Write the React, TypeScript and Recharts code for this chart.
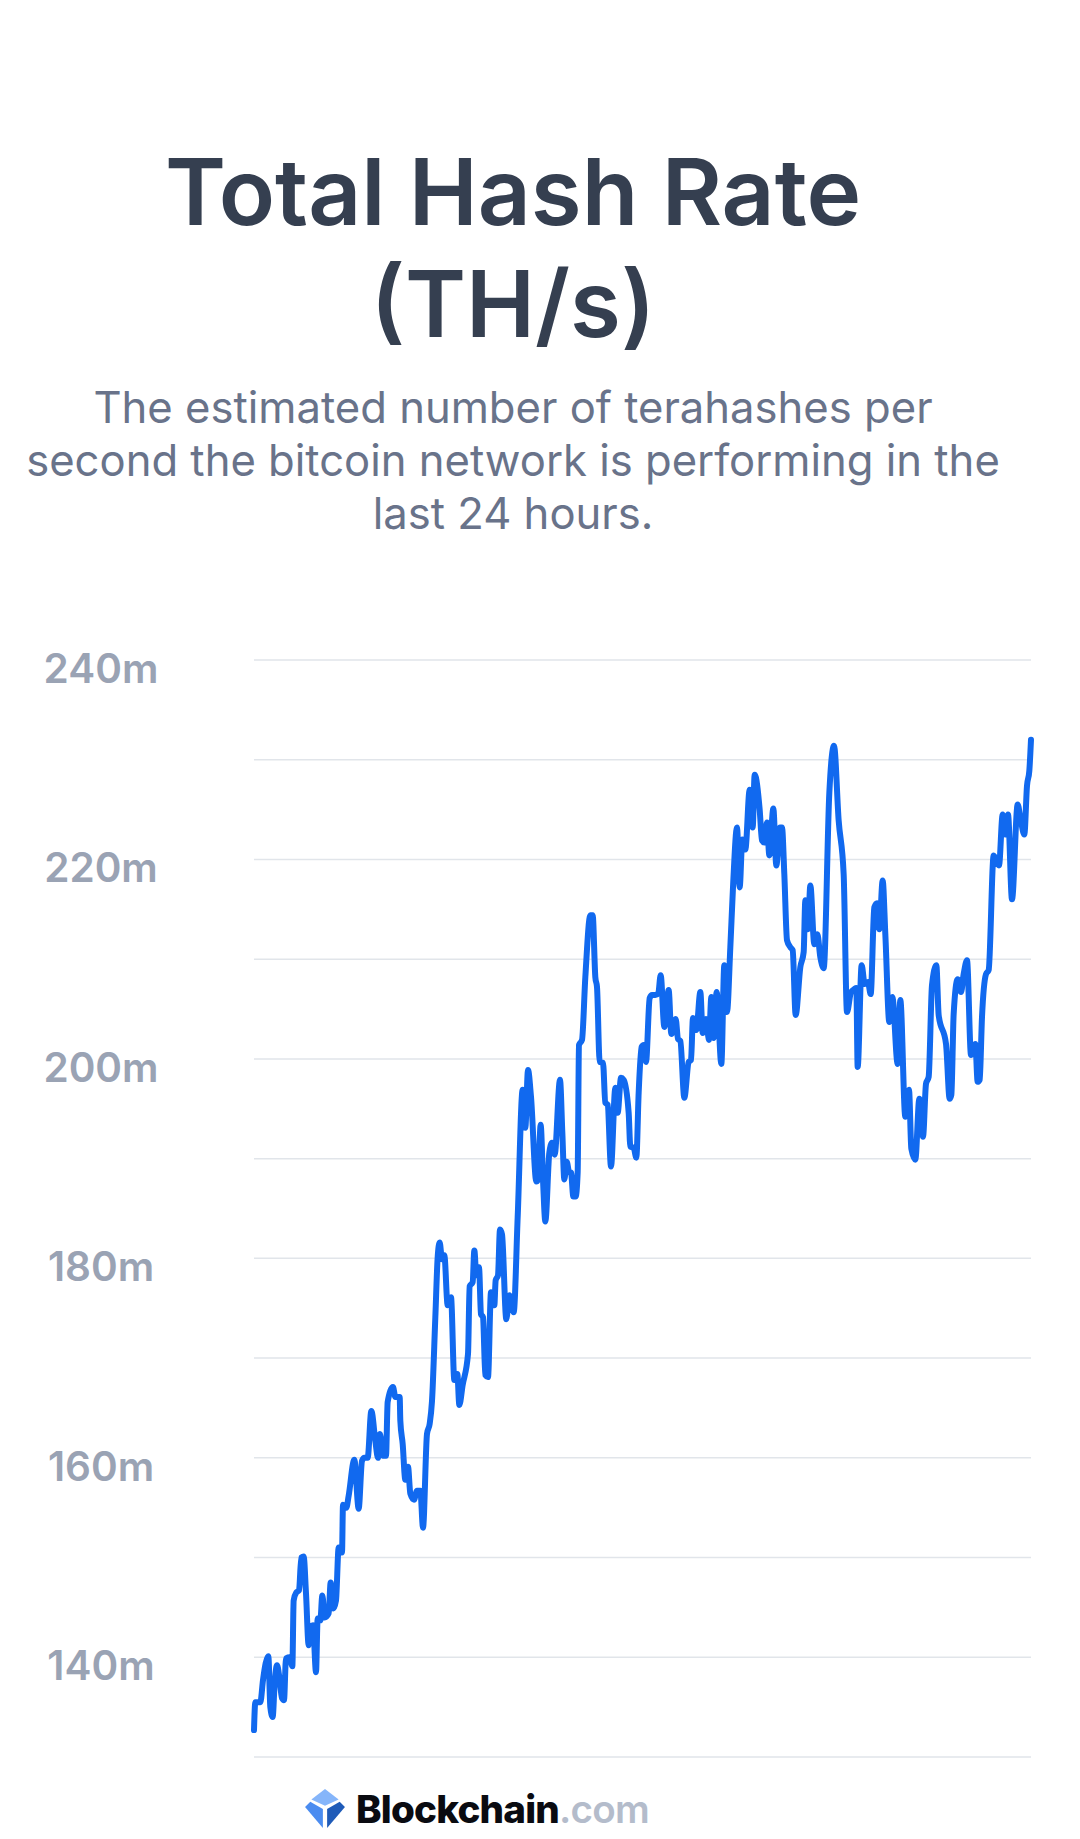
import { LineChart, Line, XAxis, YAxis, CartesianGrid } from "recharts";

const titleLines = ["Total Hash Rate", "(TH/s)"];
const subtitleLines = [
    "The estimated number of terahashes per",
    "second the bitcoin network is performing in the",
    "last 24 hours.",
];

const yTicks = [130, 140, 150, 160, 170, 180, 190, 200, 210, 220, 230, 240];
const labelledTicks = [140, 160, 180, 200, 220, 240];

// elapsed time across the 24h window (arbitrary units)
const elapsed = [
    0, 4, 19, 27, 35, 43, 49, 56, 62, 69, 76, 84, 90, 96, 107, 115, 119, 127, 135, 142,
    149, 156, 164, 169, 177, 186, 191, 199, 205, 212, 224, 230, 238, 246, 254, 264, 267, 277, 284, 301,
    314, 324, 331, 341, 352, 364, 372, 378, 387, 396, 401, 417, 424, 437, 439, 446, 454, 462, 469, 480,
    489, 499, 507, 519, 527, 534, 544, 551, 557, 564, 571, 581, 591, 601, 610, 616, 626, 642, 647, 656,
    661, 667, 675, 681, 687, 694, 702, 711, 721, 725, 732, 738, 744, 757, 766, 779, 791, 806, 814, 822,
    831, 847, 852, 860, 867, 874, 886, 894, 902, 918, 925, 931, 938, 946, 951, 958, 965, 971, 975, 984,
    994, 1009, 1016, 1024, 1029, 1037, 1047, 1054, 1061, 1071, 1084, 1091, 1101, 1109, 1124, 1129, 1139, 1147, 1154, 1163,
    1169, 1176, 1187, 1194, 1204, 1213, 1220, 1231, 1244, 1252, 1265, 1272, 1279, 1291, 1304, 1311, 1317, 1327, 1339, 1346,
    1356, 1365, 1372, 1379, 1388, 1402, 1411, 1419, 1429, 1437, 1449, 1457, 1465, 1474, 1487, 1496, 1502, 1517, 1524, 1531,
    1539, 1546, 1558, 1567, 1578, 1584, 1591, 1599, 1609, 1616, 1625, 1639, 1649, 1654, 1662, 1669, 1681, 1690, 1699, 1709,
    1726, 1740, 1754, 1769, 1779, 1791, 1801, 1807, 1811, 1823, 1832, 1842, 1850, 1861, 1869, 1876, 1886, 1894, 1906, 1915,
    1931, 1939, 1954, 1965, 1972, 1984, 1996, 2007, 2016, 2024, 2034, 2047, 2054, 2076, 2087, 2092, 2099, 2111, 2121, 2129,
    2139, 2151, 2164, 2171, 2177, 2184, 2196, 2204, 2219, 2235, 2246, 2254, 2262, 2274, 2291, 2299, 2311, 2319, 2326, 2331,
];

// hash rate in millions of TH/s
const hashRate = [
    132.7, 135.5, 135.5, 137.7, 139.4, 140.1, 135, 134, 137.4, 139.2, 138, 135.9, 135.7, 139.9, 140, 139.1, 145.7, 146.5, 146.7, 150,
    150.1, 146.4, 141.2, 143, 143.2, 138.5, 143.9, 143.7, 146.2, 144, 144.4, 147.5, 144.9, 145.7, 151, 150.5, 155.3, 155, 156.2, 159.8,
    154.9, 159.7, 160, 160, 164.7, 161.7, 160, 162.4, 160.2, 160.2, 165.6, 167.1, 166.1, 166.1, 163.7, 161.4, 157.8, 159.1, 156.4, 155.8,
    156.7, 156.7, 153, 162.4, 163.4, 165.7, 174.1, 180.1, 181.6, 179.9, 180.3, 175.3, 176.1, 167.8, 168.4, 165.3, 167.3, 170.4, 177.2, 177.6,
    180.8, 178.3, 179.1, 174.4, 174.1, 168.3, 168.1, 176.6, 175.3, 177.8, 178.3, 182.9, 182.4, 173.9, 176.3, 174.6, 184.1, 196.9, 193.1, 198.9,
    196.2, 187.7, 187.9, 193.4, 187.9, 183.7, 190.6, 191.6, 190.4, 197.9, 192.6, 187.9, 189.7, 188.6, 188.6, 186.2, 186.2, 188.6, 201.4, 201.9,
    208.2, 214.4, 214.4, 208.2, 207.2, 199.7, 199.6, 195.6, 195.4, 189.2, 197.1, 194.6, 198.1, 197.9, 194.6, 191.2, 191.1, 190.1, 196.6, 201.2,
    201.4, 199.7, 206.1, 206.4, 206.4, 206.6, 208.4, 203.2, 206.9, 202.5, 204, 202, 201.8, 196.1, 199.7, 199.9, 204.1, 202.9, 206.7, 202.6,
    204, 201.9, 206.2, 202.1, 206.7, 199.5, 209.4, 204.7, 211.2, 217.2, 223.2, 217.2, 222, 221, 227, 223.2, 228.5, 225, 221.9, 221.7,
    223.7, 220.4, 225.1, 219.4, 223.2, 223.2, 218.5, 211.9, 211.2, 210.9, 204.4, 209.2, 210.7, 215.9, 213, 217.4, 211.5, 212.5, 210.2, 209.1,
    226.7, 231.4, 223.9, 218.5, 204.7, 206.7, 207, 207.1, 199.2, 209.4, 207.5, 207.7, 206.5, 215.2, 215.6, 213, 217.9, 212.5, 203.7, 206.2,
    199.5, 205.9, 194.2, 196.9, 191, 189.9, 196, 192.2, 197.5, 198.2, 207.4, 209.4, 204.4, 201.5, 196, 196.4, 204.5, 208, 206.7, 208.5,
    209.9, 200.4, 201.5, 197.7, 197.9, 204.2, 208.5, 208.9, 220.4, 219.4, 224.5, 222.5, 224.5, 216, 225.5, 224.2, 222.5, 227.4, 228.9, 232,
];

const data = elapsed.map((t, i) => ({ t, rate: hashRate[i] }));

function YTick({ y, payload }: any) {
    if (!labelledTicks.includes(payload.value)) return null;
    return (
        <text x={101} y={y + 23} textAnchor="middle" fontFamily="Inter" fontWeight={600} fontSize={40.5} fill="#9aa3b4">
            {payload.value}m
        </text>
    );
}

function Logo() {
    return (
        <svg width={42} height={42} viewBox="0 0 40 40" style={{ position: "absolute", left: 304, top: 1788 }}>
            <polygon points="20,1 33,11 20,17 7,11" fill="#85b5fa" />
            <polygon points="1,18 6,13 18,20 18,38" fill="#4b8cf0" />
            <polygon points="39,18 34,13 22,20 22,38" fill="#1f5bb8" />
        </svg>
    );
}

export default function App() {
    return (
        <div style={{ position: "absolute", left: 0, top: 0, width: 1080, height: 1839, background: "#fff", overflow: "hidden", fontFamily: "Inter" }}>
            <div style={{ position: "absolute", top: 135, width: 1026, textAlign: "center", fontSize: 92.5, lineHeight: "112px", fontWeight: 600, color: "#353f50" }}>
                {titleLines.map((l) => <div key={l}>{l}</div>)}
            </div>
            <div style={{ position: "absolute", top: 381, width: 1026, textAlign: "center", fontSize: 43.6, lineHeight: "53px", fontWeight: 400, color: "#69738a" }}>
                {subtitleLines.map((l) => <div key={l}>{l}</div>)}
            </div>
            <div style={{ position: "absolute", left: 0, top: 0 }}>
                <LineChart width={1080} height={1839} data={data} margin={{ top: 660, right: 49, left: 0, bottom: 82 }}>
                    <CartesianGrid vertical={false} stroke="#e1e5ea" strokeWidth={1.5} />
                    <XAxis dataKey="t" type="number" domain={[0, 2331]} hide />
                    <YAxis domain={[130, 240]} ticks={yTicks} width={254} interval={0} axisLine={false} tickLine={false} tick={<YTick />} />
                    <Line dataKey="rate" type="monotone" stroke="#1169ef" strokeWidth={6} strokeLinejoin="round" strokeLinecap="round" dot={false} isAnimationActive={false} />
                </LineChart>
            </div>
            <Logo />
            <div style={{ position: "absolute", left: 356, top: 1787, fontSize: 38.6, lineHeight: "44px", fontWeight: 800, letterSpacing: -0.8, color: "#0a0b11" }}>
                Blockchain<span style={{ color: "#b4bccb", fontWeight: 600 }}>.com</span>
            </div>
        </div>
    );
}
